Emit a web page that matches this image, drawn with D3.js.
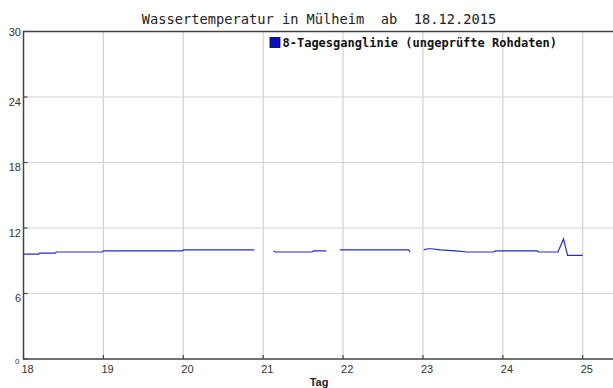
<!DOCTYPE html>
<html>
<head>
<meta charset="utf-8">
<script src="https://cdn.jsdelivr.net/npm/d3@7"></script>
<style>
  body { margin: 0; background: #fff; }
  svg { display: block; }
</style>
</head>
<body>
<div id="chart"></div>
<script>
// data: day of December (fractional) and water temperature, null = gap
var days  = [18.00, 18.19, 18.20, 18.40, 18.41, 18.99, 19.00, 19.99, 20.00, 20.89, 21.00,
             21.13, 21.15, 21.61, 21.63, 21.79, 21.90,
             21.96, 22.82, 22.84, 22.92,
             23.01, 23.06, 23.10, 23.22, 23.41, 23.55, 23.88, 23.91, 24.43, 24.45, 24.69, 24.76, 24.81, 25.00];
var temps = [9.6, 9.6, 9.7, 9.7, 9.8, 9.8, 9.9, 9.9, 10.0, 10.0, null,
             9.9, 9.8, 9.8, 9.9, 9.9, null,
             10.0, 10.0, 9.8, null,
             10.0, 10.1, 10.1, 10.0, 9.9, 9.8, 9.8, 9.9, 9.9, 9.8, 9.8, 11.0, 9.5, 9.5];
var x_ticks = [18, 19, 20, 21, 22, 23, 24, 25];
var y_ticks = [0, 6, 12, 18, 24, 30];
var title = 'Wassertemperatur in M\u00fclheim  ab  18.12.2015';
var legend_label = '8-Tagesganglinie (ungepr\u00fcfte Rohdaten)';

var chart_width = 613;
var chart_height = 388;
var svg = d3.select('#chart')
    .append('svg')
    .attr('width', chart_width)
    .attr('height', chart_height);

var x_scale = d3.scaleLinear().domain([18, 25]).range([23.5, 582.7]);
var y_scale = d3.scaleLinear().domain([0, 30]).range([359, 31.5]);

var points = days.map(function (d, i) { return { day: d, temp: temps[i] }; });

// grid
svg.selectAll('.vgrid')
    .data(x_ticks.slice(1))
    .enter()
    .append('line')
    .attr('x1', function (d) { return x_scale(d); })
    .attr('x2', function (d) { return x_scale(d); })
    .attr('y1', y_scale(30))
    .attr('y2', y_scale(0))
    .attr('stroke', '#d2d2d2')
    .attr('stroke-width', 1.2);

svg.selectAll('.hgrid')
    .data(y_ticks.slice(1, -1))
    .enter()
    .append('line')
    .attr('x1', x_scale(18))
    .attr('x2', chart_width)
    .attr('y1', function (d) { return y_scale(d); })
    .attr('y2', function (d) { return y_scale(d); })
    .attr('stroke', '#d2d2d2')
    .attr('stroke-width', 1.2);

// ticks
svg.selectAll('.xtick')
    .data(x_ticks)
    .enter()
    .append('line')
    .attr('x1', function (d) { return x_scale(d); })
    .attr('x2', function (d) { return x_scale(d); })
    .attr('y1', y_scale(0))
    .attr('y2', y_scale(0) - 4)
    .attr('stroke', '#444')
    .attr('stroke-width', 1.2);

svg.selectAll('.ytick')
    .data(y_ticks)
    .enter()
    .append('line')
    .attr('x1', x_scale(18))
    .attr('x2', x_scale(18) + 4)
    .attr('y1', function (d) { return y_scale(d); })
    .attr('y2', function (d) { return y_scale(d); })
    .attr('stroke', '#444')
    .attr('stroke-width', 1.2);

// frame
svg.append('path')
    .attr('d', 'M' + chart_width + ',' + y_scale(30) + 'H' + x_scale(18) + 'V' + y_scale(0) + 'H' + chart_width)
    .attr('fill', 'none')
    .attr('stroke', '#444')
    .attr('stroke-width', 1.5);

// line
var line = d3.line()
    .defined(function (d) { return d.temp != null; })
    .x(function (d) { return x_scale(d.day); })
    .y(function (d) { return y_scale(d.temp); });

svg.append('path')
    .datum(points)
    .attr('d', line)
    .attr('fill', 'none')
    .attr('stroke', '#2828d2')
    .attr('stroke-width', 1.2);

// labels
svg.selectAll('.ylabel')
    .data(y_ticks)
    .enter()
    .append('text')
    .text(function (d) { return d; })
    .attr('x', function (d) { return d === 0 ? 19.5 : 21; })
    .attr('y', function (d) { return d === 0 ? y_scale(d) + 5 : (d === 30 ? y_scale(d) + 4.5 : y_scale(d) + 8.5); })
    .attr('font-family', 'Liberation Sans, Arial, sans-serif')
    .attr('font-size', function (d) { return d === 0 ? 8 : 11; })
    .attr('fill', '#333')
    .attr('text-anchor', 'end');

svg.selectAll('.xlabel')
    .data(x_ticks)
    .enter()
    .append('text')
    .text(function (d) { return d; })
    .attr('x', function (d) { return x_scale(d) - 2; })
    .attr('y', y_scale(0) + 14)
    .attr('font-family', 'Liberation Sans, Arial, sans-serif')
    .attr('font-size', 11)
    .attr('fill', '#333')
    .attr('text-anchor', 'start');

svg.append('text')
    .text('Tag')
    .attr('x', 319)
    .attr('y', 386)
    .attr('font-family', 'Liberation Sans, Arial, sans-serif')
    .attr('font-size', 11)
    .attr('font-weight', 'bold')
    .attr('fill', '#222')
    .attr('text-anchor', 'middle');

svg.append('text')
    .text(title)
    .attr('x', 319)
    .attr('y', 24)
    .attr('font-family', 'DejaVu Sans Mono, monospace')
    .attr('font-size', 13.7)
    .attr('fill', '#222')
    .attr('text-anchor', 'middle')
    .style('white-space', 'pre');

// legend
svg.append('rect')
    .attr('x', 270)
    .attr('y', 37.5)
    .attr('width', 10)
    .attr('height', 10)
    .attr('fill', '#0a10c0')
    .attr('stroke', '#000044')
    .attr('stroke-width', 0.8);

svg.append('text')
    .text(legend_label)
    .attr('x', 282.5)
    .attr('y', 47)
    .attr('font-family', 'DejaVu Sans Mono, monospace')
    .attr('font-size', 12)
    .attr('font-weight', 'bold')
    .attr('fill', '#111');
</script>
</body>
</html>
